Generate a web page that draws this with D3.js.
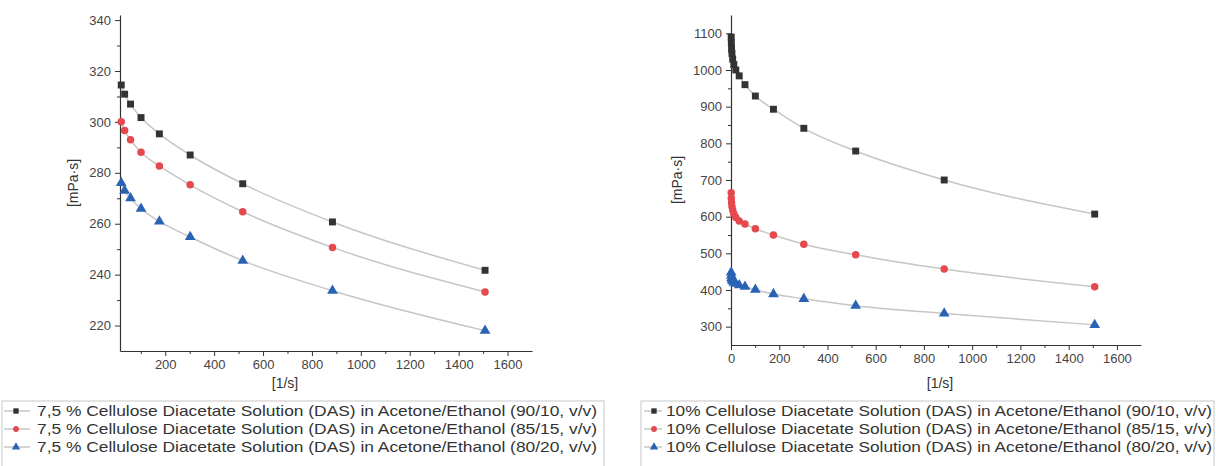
<!DOCTYPE html>
<html>
<head>
<meta charset="utf-8">
<script src="https://cdn.jsdelivr.net/npm/d3@7"></script>
<style>
  body { margin: 0; background: #fff; }
  svg { font-family: "Liberation Sans", Arial, sans-serif; }
</style>
</head>
<body>
<svg id="chart" width="1216" height="466"></svg>
<script>
// shear rates [1/s]
var rateLeft = [20, 34, 58, 101, 176, 302, 517, 884, 1508];
var rateRight = [0.8, 1.37, 2.35, 4, 6.9, 11.8, 20, 34, 58, 101, 176, 302, 517, 884, 1508];

// 7,5 % DAS viscosities [mPa·s]
var left9010 = [314.5, 310.9, 307, 301.7, 295.3, 287, 275.7, 260.7, 241.7];
var left8515 = [300.1, 296.6, 293, 288.1, 282.7, 275.3, 264.7, 250.7, 233.2];
var left8020 = [276, 273, 270, 265.9, 260.9, 254.8, 245.5, 233.7, 218];

// 10 % DAS viscosities [mPa·s]
var right9010 = [1090, 1075, 1060, 1045, 1030, 1015, 1000, 984, 960, 929, 893, 841, 779, 700, 607];
var right8515 = [665, 650, 638, 628, 618, 608, 598, 588, 580, 567, 550, 525, 496, 457, 409];
var right8020 = [448, 440, 433, 428, 424, 420, 417, 413, 409, 401, 389, 376, 357, 336, 305];

var leftNames = [
  "7,5 % Cellulose Diacetate Solution (DAS) in Acetone/Ethanol (90/10, v/v)",
  "7,5 % Cellulose Diacetate Solution (DAS) in Acetone/Ethanol (85/15, v/v)",
  "7,5 % Cellulose Diacetate Solution (DAS) in Acetone/Ethanol (80/20, v/v)"
];
var rightNames = [
  "10% Cellulose Diacetate Solution (DAS) in Acetone/Ethanol (90/10, v/v)",
  "10% Cellulose Diacetate Solution (DAS) in Acetone/Ethanol (85/15, v/v)",
  "10% Cellulose Diacetate Solution (DAS) in Acetone/Ethanol (80/20, v/v)"
];

var xTicks = [200, 400, 600, 800, 1000, 1200, 1400, 1600];
var xTicksRight = [0, 200, 400, 600, 800, 1000, 1200, 1400, 1600];
var yTicksLeft = [220, 240, 260, 280, 300, 320, 340];
var yTicksRight = [300, 400, 500, 600, 700, 800, 900, 1000, 1100];

var colors = ["#333333", "#e5484d", "#2a62b5"];
var symbols = [d3.symbolSquare, d3.symbolCircle, d3.symbolTriangle];
var symSize = [48, 44, 50];

var svg = d3.select("#chart");

function panel(opt) {
  var x = d3.scaleLinear().domain(opt.xDomain).range(opt.xRange);
  var y = d3.scaleLinear().domain(opt.yDomain).range(opt.yRange);
  var g = svg.append("g");
  var fmt = d3.format("d");

  var clipId = "clip" + opt.id;
  svg.append("clipPath").attr("id", clipId)
    .append("rect")
      .attr("x", opt.xRange[0] - 6).attr("y", opt.yRange[1])
      .attr("width", opt.xRange[1] - opt.xRange[0] + 6)
      .attr("height", opt.yRange[0] - opt.yRange[1]);

  // minor ticks
  var xMinor = d3.range(100, opt.xDomain[1], 200);
  var yMinor = opt.yMinor;

  g.append("g")
    .attr("transform", "translate(0," + opt.yRange[0] + ")")
    .call(d3.axisBottom(x).tickValues(opt.xTicks).tickFormat(fmt).tickSize(5).tickSizeOuter(0).tickPadding(4));
  g.append("g")
    .attr("transform", "translate(0," + opt.yRange[0] + ")")
    .call(d3.axisBottom(x).tickValues(xMinor).tickSize(3).tickFormat("").tickSizeOuter(0))
    .select(".domain").remove();

  g.append("g")
    .attr("transform", "translate(" + opt.xRange[0] + ",0)")
    .call(d3.axisLeft(y).tickValues(opt.yTicks).tickFormat(fmt).tickSize(5).tickSizeOuter(0).tickPadding(4));
  g.append("g")
    .attr("transform", "translate(" + opt.xRange[0] + ",0)")
    .call(d3.axisLeft(y).tickValues(yMinor).tickSize(3).tickFormat("").tickSizeOuter(0))
    .select(".domain").remove();

  g.selectAll(".domain").attr("stroke", "#333").attr("stroke-width", 1.2);
  g.selectAll(".tick line").attr("stroke", "#333");
  g.selectAll(".tick text").attr("fill", "#444").style("font-size", "13px");

  // y label
  g.append("text")
    .attr("transform", "translate(" + opt.yLabelX + "," + ((opt.yRange[0] + opt.yRange[1]) / 2) + ") rotate(-90)")
    .attr("text-anchor", "middle")
    .attr("fill", "#333")
    .style("font-size", "14px")
    .text("[mPa·s]");

  // x label
  g.append("text")
    .attr("x", opt.xLabelX)
    .attr("y", 388)
    .attr("text-anchor", "middle")
    .attr("fill", "#333")
    .style("font-size", "14px")
    .text("[1/s]");

  var plot = g.append("g").attr("clip-path", "url(#" + clipId + ")");
  var line = d3.line()
    .x(function(d) { return x(d[0]); })
    .y(function(d) { return y(d[1]); })
    .curve(d3.curveMonotoneX);

  opt.series.forEach(function(vals, i) {
    var pts = vals.map(function(v, j) { return [opt.rates[j], v]; });
    plot.append("path")
      .datum(pts)
      .attr("d", line)
      .attr("fill", "none")
      .attr("stroke", "#c6c6c6")
      .attr("stroke-width", 1.5);
  });
  opt.series.forEach(function(vals, i) {
    var pts = vals.map(function(v, j) { return [opt.rates[j], v]; });
    plot.selectAll(".pt" + i)
      .data(pts)
      .enter()
      .append("path")
        .attr("transform", function(d) { return "translate(" + x(d[0]) + "," + y(d[1]) + ")"; })
        .attr("d", d3.symbol().type(symbols[i]).size(symSize[i]))
        .attr("fill", colors[i]);
  });

  // legend
  var lg = svg.append("g");
  lg.append("rect")
    .attr("x", opt.legend.x).attr("y", 401)
    .attr("width", opt.legend.w).attr("height", 80)
    .attr("fill", "none")
    .attr("stroke", "#c8c8c8");
  opt.names.forEach(function(name, i) {
    var yy = 411 + i * 18;
    lg.append("line")
      .attr("x1", opt.legend.lx1).attr("x2", opt.legend.lx2)
      .attr("y1", yy).attr("y2", yy)
      .attr("stroke", "#c6c6c6").attr("stroke-width", 1.5);
    lg.append("path")
      .attr("transform", "translate(" + opt.legend.sx + "," + yy + ")")
      .attr("d", d3.symbol().type(symbols[i]).size(symSize[i] * 0.6))
      .attr("fill", colors[i]);
    lg.append("text")
      .attr("x", opt.legend.tx).attr("y", yy + 5)
      .attr("fill", "#333")
      .style("font-size", "15px")
      .attr("textLength", opt.legend.tw)
      .attr("lengthAdjust", "spacingAndGlyphs")
      .text(name);
  });
}

panel({
  id: "L",
  xDomain: [15, 1700], xRange: [120, 532],
  yDomain: [210, 342], yRange: [351, 15],
  xTicks: xTicks, yTicks: yTicksLeft,
  yMinor: [230, 250, 270, 290, 310, 330],
  yLabelX: 78, xLabelX: 285,
  rates: rateLeft,
  series: [left9010, left8515, left8020],
  names: leftNames,
  legend: { x: 2, w: 602, lx1: 4, lx2: 30, sx: 16, tx: 37, tw: 560 }
});

panel({
  id: "R",
  xDomain: [0, 1700], xRange: [731, 1141],
  yDomain: [250, 1150], yRange: [345, 15],
  xTicks: xTicksRight, yTicks: yTicksRight,
  yMinor: [350, 450, 550, 650, 750, 850, 950, 1050],
  yLabelX: 682, xLabelX: 940,
  rates: rateRight,
  series: [right9010, right8515, right8020],
  names: rightNames,
  legend: { x: 641, w: 573, lx1: 644, lx2: 662, sx: 654, tx: 666, tw: 546 }
});
</script>
</body>
</html>
